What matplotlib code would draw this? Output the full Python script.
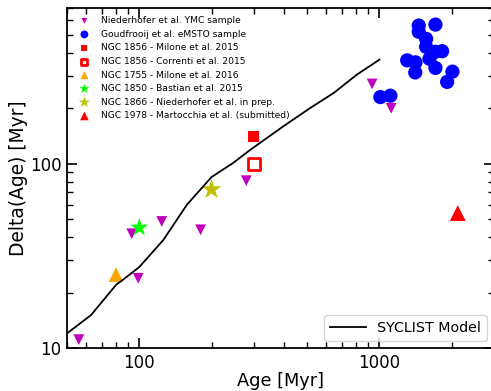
import matplotlib
matplotlib.use("Agg")
import matplotlib.pyplot as plt
from matplotlib.ticker import ScalarFormatter, NullFormatter

# Niederhofer et al. YMC sample
ymc_age = [56, 93, 99, 124, 180, 279, 932, 1119]
ymc_dage = [11.1, 41.7, 23.9, 48.6, 43.8, 80.9, 271, 200]

# Goudfrooij et al. eMSTO sample
gou_age = [1458, 1458, 1711, 1565, 1565, 1305, 1413, 1410, 1616, 1711, 1824, 1711, 2014, 1914, 1009, 1111]
gou_dage = [562, 520, 569, 476, 431, 364, 355, 313, 371, 405, 408, 331, 316, 278, 230, 234]

# single clusters
milone1856 = (300, 140)
correnti1856 = (300, 100)
milone1755 = (80, 25)
bastian1850 = (100, 45)
nieder1866 = (200, 72.5)
marto1978 = (2120, 54)

# SYCLIST model
syc_age = [50, 63, 80, 86, 100, 126, 158, 200, 246, 290, 399, 516, 645, 807, 1000]
syc_dage = [12.0, 15.1, 22.0, 23.6, 27.5, 38.6, 60, 84.7, 101, 119, 160, 201, 242, 305, 367]

fig = plt.figure(figsize=(4.91, 3.91), dpi=100)
ax = fig.add_axes([67 / 491, 1 - 348 / 391, 427 / 491, 340 / 391])

h1 = ax.scatter(ymc_age, ymc_dage, marker="v", s=60, color="m", edgecolors="none")
h2 = ax.scatter(gou_age, gou_dage, marker="o", s=105, color="b", edgecolors="none")
h3 = ax.scatter(*milone1856, marker="s", s=65, color="r", edgecolors="none")
h4 = ax.scatter(*correnti1856, marker="s", s=65, facecolors="white", edgecolors="r", linewidths=2)
h5 = ax.scatter(*milone1755, marker="^", s=110, color="orange", edgecolors="none")
h6 = ax.scatter(*bastian1850, marker="*", s=190, color="lime", edgecolors="none")
h7 = ax.scatter(*nieder1866, marker="*", s=230, color="y", edgecolors="none")
h8 = ax.scatter(*marto1978, marker="^", s=130, color="r", edgecolors="none")
line, = ax.plot(syc_age, syc_dage, color="k", lw=1.3)

ax.set_xscale("log")
ax.set_yscale("log")
ax.set_xlim(50, 3000)
ax.set_ylim(10, 700)
for a in (ax.xaxis, ax.yaxis):
    a.set_major_formatter(ScalarFormatter())
    a.set_minor_formatter(NullFormatter())
ax.set_xlabel("Age [Myr]", fontsize=12.8, labelpad=0)
ax.set_ylabel("Delta(Age) [Myr]", fontsize=13.4, labelpad=1)
ax.tick_params(which="both", direction="in", top=True, right=True, labelsize=12)
ax.tick_params(which="major", length=7, width=1.2, pad=4)
ax.tick_params(which="minor", length=4, width=1)
for s in ax.spines.values():
    s.set_linewidth(1.3)

leg1 = ax.legend([h1, h2, h3, h4, h5, h6, h7, h8],
                 ["Niederhofer et al. YMC sample",
                  "Goudfrooij et al. eMSTO sample",
                  "NGC 1856 - Milone et al. 2015",
                  "NGC 1856 - Correnti et al. 2015",
                  "NGC 1755 - Milone et al. 2016",
                  "NGC 1850 - Bastian et al. 2015",
                  "NGC 1866 - Niederhofer et al. in prep.",
                  "NGC 1978 - Martocchia et al. (submitted)"],
                 loc="upper left", fontsize=6.6, frameon=False, scatterpoints=1,
                 markerscale=0.55, labelspacing=0.5, handletextpad=0.8,
                 bbox_to_anchor=(0.0, 1.0))
ax.add_artist(leg1)
ax.legend([line], ["SYCLIST Model"], loc="lower right", fontsize=10.3,
          handlelength=2.5)

fig.savefig("out.png", dpi=100)
